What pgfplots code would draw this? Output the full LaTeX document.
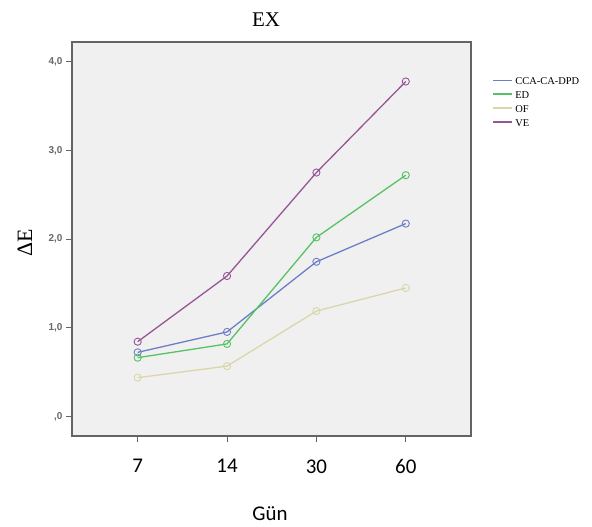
\documentclass[border=0pt]{standalone}
\usepackage{fontspec}
\setmainfont{Liberation Serif}
\newfontfamily\calfont{Carlito}
\newfontfamily\arialfont{Liberation Sans}
\usepackage{pgfplots}
\pgfplotsset{compat=1.18}
\definecolor{cblue}{RGB}{110,125,200}
\definecolor{cgreen}{RGB}{85,195,100}
\definecolor{cof}{RGB}{218,214,170}
\definecolor{cve}{RGB}{150,85,150}
\definecolor{frame}{RGB}{100,100,100}
\definecolor{bg}{RGB}{240,240,240}
\begin{document}
\begin{tikzpicture}[x=1bp,y=1bp]
\begin{axis}[
  at={(72bp,91bp)}, anchor=south west,
  scale only axis, width=399bp, height=394bp,
  xmin=-0.735, xmax=3.73, ymin=-0.217, ymax=4.22,
  axis background/.style={fill=bg},
  axis line style={frame, line width=1.1pt},
  xtick={0,1,2,3}, xticklabels={7,14,30,60},
  ytick={0,1,2,3,4}, yticklabels={{,0},{1,0},{2,0},{3,0},{4,0}},
  tick align=outside, major tick length=6bp,
  tick style={frame, line width=1pt},
  xtick pos=bottom, ytick pos=left,
  xticklabel style={font=\calfont\fontsize{21}{21}\selectfont, yshift=-14bp, text=black},
  yticklabel style={font=\arialfont\bfseries\fontsize{10}{10}\selectfont, text=black!60},
  legend style={at={(1.053,0.918)}, anchor=north west, draw=none, fill=none,
    font=\fontsize{10.5}{11}\selectfont, row sep=2bp, inner sep=0pt,
    nodes={text depth=0pt, text height=8bp}},
  legend cell align=left,
  legend image code/.code={\draw[#1, mark=none, line width=2pt] (0bp,0bp) -- (19bp,0bp);},
  every axis plot/.append style={line width=1.3pt, mark=o, mark size=3.6bp, mark options={line width=0.9pt, fill=none}},
]
\addplot[cblue] coordinates {(0,0.725) (1,0.955) (2,1.745) (3,2.175)};
\addlegendentry{CCA-CA-DPD}
\addplot[cgreen] coordinates {(0,0.665) (1,0.82) (2,2.02) (3,2.72)};
\addlegendentry{ED}
\addplot[cof] coordinates {(0,0.44) (1,0.57) (2,1.19) (3,1.45)};
\addlegendentry{OF}
\addplot[cve] coordinates {(0,0.845) (1,1.585) (2,2.75) (3,3.775)};
\addlegendentry{VE}
\end{axis}
\node at (266bp,507bp) {\fontsize{21}{21}\selectfont EX};
\node[rotate=90] at (25bp,284bp) {\fontsize{22}{22}\selectfont ΔE};
\node at (270bp,13bp) {\calfont\fontsize{21}{21}\selectfont Gün};
\pgfresetboundingbox
\path (0bp,0bp) rectangle (592bp,527bp);
\end{tikzpicture}
\end{document}
